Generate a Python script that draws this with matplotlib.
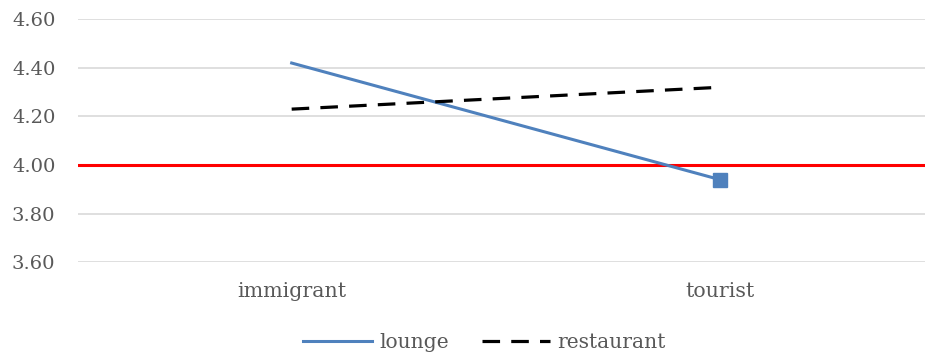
import matplotlib.pyplot as plt

categories = ["immigrant", "tourist"]
lounge = [4.42, 3.94]
restaurant = [4.23, 4.32]
reference_level = 4.00
y_ticks = [3.60, 3.80, 4.00, 4.20, 4.40, 4.60]

plt.rcParams['font.family'] = ['DejaVu Serif']
text_color = '#595959'

fig = plt.figure(figsize=(9.25, 3.58), dpi=100)
ax = fig.add_axes([0.084, 0.268, 0.916, 0.678])

x = list(range(len(categories)))
ax.plot(x, lounge, color='#4f81bd', lw=2.2, label='lounge', zorder=4)
ax.plot(x[-1], lounge[-1], marker='s', ms=10, color='#4f81bd', ls='none', zorder=5)
ax.plot(x, restaurant, color='black', lw=2.3, ls=(0, (5.5, 3.5)), label='restaurant', zorder=4)
ax.axhline(reference_level, color='#ff0000', lw=2.2, zorder=3)

ax.set_xlim(-0.5, 1.48)
ax.set_ylim(3.60, 4.60)
ax.set_yticks(y_ticks)
ax.set_yticklabels([f"{v:.2f}" for v in y_ticks])
ax.set_xticks(x)
ax.set_xticklabels(categories)
ax.grid(axis='y', color='#d9d9d9', lw=1.2, zorder=0)
ax.tick_params(axis='y', length=0, labelsize=14, colors=text_color, pad=16)
ax.tick_params(axis='x', length=0, labelsize=14.8, colors=text_color, pad=14)
for s in ax.spines.values():
    s.set_visible(False)

leg = fig.legend(loc='lower center', bbox_to_anchor=(0.524, -0.035), ncol=2, frameon=False,
                 fontsize=14.6, handlelength=3.4, columnspacing=1.6, handletextpad=0.35)
for t in leg.get_texts():
    t.set_color(text_color)

fig.savefig('out.png', dpi=100)
